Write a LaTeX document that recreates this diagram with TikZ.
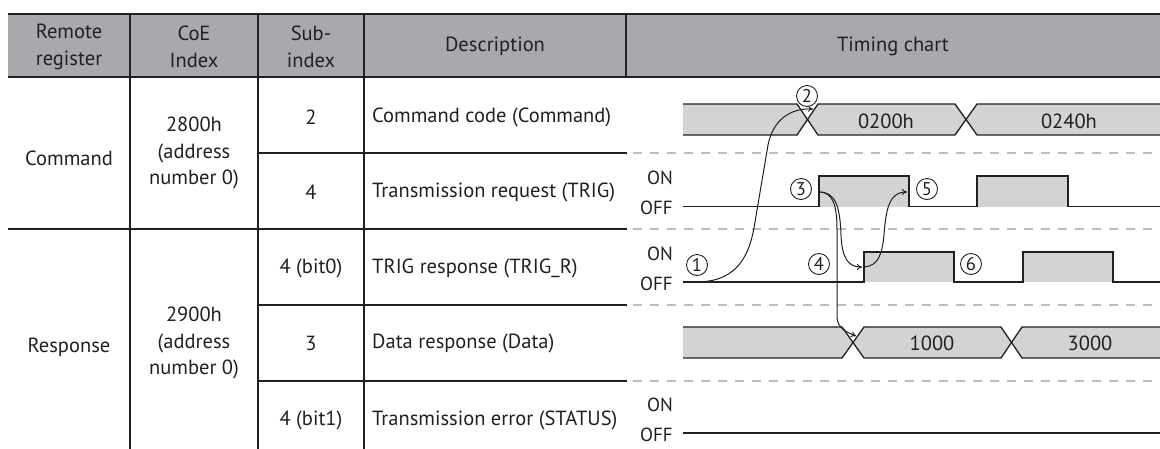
\documentclass[tikz,border=0pt]{standalone}
\usepackage{fontspec}
\setmainfont{PT Sans}
\usetikzlibrary{arrows.meta}
\definecolor{ink}{HTML}{231F20}
\definecolor{hdr}{HTML}{A7A9AC}
\definecolor{sig}{HTML}{D1D3D4}
\definecolor{dsh}{HTML}{BCBEC0}
\begin{document}
\begin{tikzpicture}[x=1pt,y=-1pt,
 txt/.style={font=\fontsize{20.5}{26.5}\selectfont, text=ink, inner sep=0pt, align=center},
 ltxt/.style={txt, anchor=west, align=left},
 onoff/.style={font=\fontsize{19}{19}\selectfont, text=ink, inner sep=0pt, anchor=east},
 num/.style={circle, draw=ink, line width=0.9pt, minimum size=21pt, inner sep=0pt, font=\fontsize{18.5}{18.5}\selectfont, text=ink},
 tline/.style={draw=ink, line width=1.1pt},
 dline/.style={draw=dsh, line width=1.4pt, dash pattern=on 9pt off 8pt},
 sigline/.style={draw=ink, line width=1.3pt},
 arr/.style={draw=ink, line width=1pt, -{To[length=5pt,width=6pt]}},
]
\useasboundingbox (0,0) rectangle (1160,448);
% table frame
\fill[hdr] (8,14) rectangle (1160,77);
\draw[tline] (8,14) -- (1160,14);
\draw[tline] (8,77) -- (1160,77);
\foreach \x in {130,258,364} \draw[tline] (\x,14) -- (\x,450);
\draw[tline] (626,14) -- (626,77);
\draw[tline] (8,229) -- (627,229);
\foreach \y in {153,305,381} \draw[tline] (258,\y) -- (627,\y);
\foreach \y in {153,229,305,381} \draw[dline] (633,\y) -- (1160,\y);
% header
\node[txt] (h1) at (69,47) {Remote\\register};
\node[txt] (h2) at (194,47) {CoE\\Index};
\node[txt] (h3) at (311,47) {Sub-\\index};
\node[txt] (h4) at (495,46) {Description};
\node[txt] (h5) at (893,46) {Timing chart};
% body
\node[txt] (r1) at (69,158) {Command};
\node[txt] (r2) at (69,347) {Response};
\node[txt] (c1) at (194,153) {2800h\\(address\\number 0)};
\node[txt] (c2) at (194,343) {2900h\\(address\\number 0)};
\node[txt] (s1) at (311,117) {2};
\node[txt] (s2) at (311,192) {4};
\node[txt] (s3) at (311,268) {4 (bit0)};
\node[txt] (s4) at (311,343) {3};
\node[txt] (s5) at (311,420) {4 (bit1)};
\node[ltxt] (d1) at (372,117) {Command code (Command)};
\node[ltxt] (d2) at (372,192) {Transmission request (TRIG)};
\node[ltxt] (d3) at (372,268) {TRIG response (TRIG\_R)};
\node[ltxt] (d4) at (372,343) {Data response (Data)};
\node[ltxt] (d5) at (372,420) {Transmission error (STATUS)};
% ON/OFF labels
\node[onoff] (on2) at (673,178) {ON};
\node[onoff] (off2) at (673,208) {OFF};
\node[onoff] (on3) at (673,254) {ON};
\node[onoff] (off3) at (673,284) {OFF};
\node[onoff] (on5) at (673,405) {ON};
\node[onoff] (off5) at (673,435) {OFF};
% Command bus
\fill[sig] (683,104) -- (797,104) -- (807.5,119.5) -- (818,104) -- (955,104) -- (966,119.5) -- (977,104) -- (1160,104) -- (1160,135) -- (977,135) -- (966,119.5) -- (955,135) -- (818,135) -- (807.5,119.5) -- (797,135) -- (683,135) -- cycle;
\draw[sigline] (683,104) -- (797,104) -- (818,135) -- (955,135) -- (977,104) -- (1160,104);
\draw[sigline] (683,135) -- (797,135) -- (818,104) -- (955,104) -- (977,135) -- (1160,135);
\node[txt] (b1) at (886,121) {0200h};
\node[txt] (b2) at (1069,121) {0240h};
% TRIG
\fill[sig] (819,176) rectangle (909,206.5);
\fill[sig] (977,176) rectangle (1068,206.5);
\draw[sigline] (683,206.5) -- (819,206.5) -- (819,176) -- (909,176) -- (909,206.5) -- (977,206.5) -- (977,176) -- (1068,176) -- (1068,206.5) -- (1160,206.5);
% TRIG_R
\fill[sig] (864,252) rectangle (954,282);
\fill[sig] (1023,252) rectangle (1113,282);
\draw[sigline] (683,282) -- (864,282) -- (864,252) -- (954,252) -- (954,282) -- (1023,282) -- (1023,252) -- (1113,252) -- (1113,282) -- (1160,282);
% Data bus
\fill[sig] (683,327) -- (842,327) -- (853,342.5) -- (864,327) -- (1001,327) -- (1011.5,342.5) -- (1022,327) -- (1160,327) -- (1160,358) -- (1022,358) -- (1011.5,342.5) -- (1001,358) -- (864,358) -- (853,342.5) -- (842,358) -- (683,358) -- cycle;
\draw[sigline] (683,327) -- (842,327) -- (864,358) -- (1001,358) -- (1022,327) -- (1160,327);
\draw[sigline] (683,358) -- (842,358) -- (864,327) -- (1001,327) -- (1022,358) -- (1160,358);
\node[txt] (b3) at (932,343) {1000};
\node[txt] (b4) at (1090,343) {3000};
% STATUS
\draw[sigline] (683,433) -- (1160,433);
% circled numbers
\node[num] (n1) at (697,265) {1};
\node[num] (n2) at (807,96) {2};
\node[num] (n3) at (801,189) {3};
\node[num] (n4) at (819,264) {4};
\node[num] (n5) at (927,189) {5};
\node[num] (n6) at (971,264) {6};
% arrows
\coordinate (a1) at (698,282);
\coordinate (a2) at (813,109);
\coordinate (a3) at (819,192);
\coordinate (a4) at (856,336);
\coordinate (a5) at (862,267);
\coordinate (a6) at (864,267);
\coordinate (a7) at (907,192);
\draw[arr] (a1) .. controls +(40,-1) and +(-5,33) .. (755,222) -- (768,145) .. controls +(5,-25) and +(-23,-1) .. (a2);
\draw[arr] (a3) .. controls +(14,0) and +(0,-25) .. (837,230) -- (837,318) .. controls +(1,10) and +(-10,-4) .. (a4);
\draw[arr] (a3) .. controls +(16,0) and +(-1,-30) .. (841,235) .. controls +(1,23) and +(-14,0) .. (a5);
\draw[arr] (a6) .. controls +(14,-1) and +(-2,20) .. (884,235) .. controls +(2,-30) and +(-16,0) .. (a7);
\end{tikzpicture}
\end{document}
